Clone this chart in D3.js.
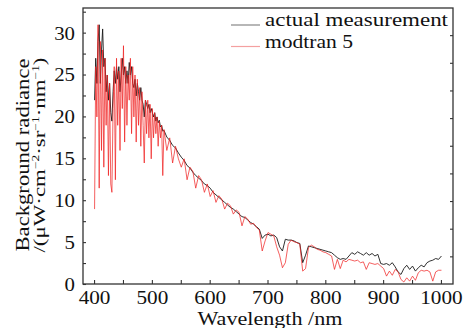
<!DOCTYPE html>
<html lang="en">
<head>
    <meta charset="UTF-8">
    <script src="https://d3js.org/d3.v7.min.js"></script>
    <style>
        body { margin: 0; background: #fff; }
        text { font-family: "Liberation Serif", "Times New Roman", serif; fill: #111; }
    </style>
</head>
<body>
    <svg id="chart" width="463" height="328"></svg>

    <script>
        // wavelength grids (nm)
        const gridA = d3.range(400, 521, 2);   // 400..520, step 2
        const gridB = d3.range(525, 1001, 5);  // 525..1000, step 5

        // actual measurement (black)
        const actualA = [
            22, 27, 24, 29, 31, 24, 28, 30.5, 26, 27,
            23, 25, 22, 24, 20.5, 19.5, 23, 25.5, 24, 26,
            24.5, 26, 23, 25, 27, 25, 26, 24, 25.5, 24,
            26.5, 25, 26, 24, 23.5, 24.5, 22.5, 24, 23, 22,
            23.5, 22, 21.5, 20, 22, 21.5, 21, 21.5, 20.5, 21,
            20.5, 20, 20.5, 19.5, 20, 19.3, 19.6, 18.8, 19, 18.3,
            18.4
        ];
        const actualB = [
            17.6, 17.2, 16.6, 16.3, 15.7, 15.2, 14.8, 14.2, 13.9, 13.4,
            13.0, 12.7, 12.4, 12.0, 11.8, 11.5, 11.0, 10.7, 10.4, 10.1,
            9.8, 9.5, 9.2, 9.0, 8.7, 8.4, 8.1, 8.0, 7.7, 7.4,
            7.2, 6.9, 6.6, 5.5, 5.9, 6.0, 5.8, 5.9, 5.6, 4.5,
            4.0, 5.4, 5.3, 5.3, 5.2, 5.0, 4.9, 2.6, 3.5, 4.6,
            4.5, 4.4, 4.3, 4.2, 4.1, 4.0, 3.9, 3.8, 3.5, 3.2,
            3.0, 3.1, 3.0, 3.4, 3.8, 3.6, 3.9, 3.7, 3.5, 3.8,
            3.5, 3.7, 3.4, 3.6, 2.5, 2.4, 2.5, 2.3, 2.6, 2.1,
            1.5, 1.2, 1.9, 2.3, 1.8, 2.2, 1.6, 2.0, 2.3, 2.1,
            2.6, 2.8, 2.9, 3.1, 3.0, 3.4
        ];

        // modtran 5 (red)
        const modtranA = [
            9, 26, 20, 31, 11.5, 29, 16, 28, 14, 27,
            19, 25, 13, 24, 12, 11, 21, 26, 12.5, 27,
            19, 25.5, 16, 27, 21, 28.5, 17, 26, 19, 25,
            22, 27, 18, 26, 20, 25, 17, 24.5, 19, 23.5,
            16.5, 23, 19, 14.5, 22, 18, 22, 17.5, 21.5, 15,
            21, 17.5, 20.5, 18, 20, 16.5, 19.5, 17.5, 19, 13,
            18.5
        ];
        const modtranB = [
            16, 17.5, 14.5, 16.5, 15, 14, 15, 12.5, 14, 13.5,
            11.5, 13, 12.5, 11, 12, 10.5, 11.2, 9.8, 10.6, 10.2,
            9.0, 9.7, 9.4, 8.4, 8.9, 8.6, 7.0, 8.1, 7.8, 7.2,
            7.3, 6.8, 6.5, 4.0, 5.2, 6.2, 6.0, 5.8, 4.5, 3.5,
            2.0, 2.6, 4.8, 5.3, 5.1, 5.0, 4.8, 1.6, 1.9, 4.4,
            4.7, 4.5, 4.2, 4.1, 3.9, 3.8, 3.6, 3.4, 1.8, 3.0,
            1.9, 2.9, 2.7, 3.0, 2.9, 2.8, 2.9, 2.6, 2.7, 1.8,
            2.6, 2.5, 2.4, 2.5, 2.2, 1.9, 1.0, 1.6, 1.1, 1.8,
            1.5, 0.6, 0.3, 0.8, 0.4, 1.0, 0.5, 1.4, 1.7, 1.6,
            1.7, 1.5, 0.4, 1.5, 1.7, 1.7
        ];

        const xTicks = [400, 500, 600, 700, 800, 900, 1000];
        const yTicks = [0, 5, 10, 15, 20, 25, 30];
        const rightTicks = [3.3, 6.6, 9.9, 13.2, 16.5, 19.8, 23.1, 26.4, 29.7];
        const legendLabels = ["actual measurement", "modtran 5"];

        const wl = gridA.concat(gridB);
        const actual = wl.map((w, i) => ({ w, v: actualA.concat(actualB)[i] }));
        const modtran = wl.map((w, i) => ({ w, v: modtranA.concat(modtranB)[i] }));

        const margin = { top: 8, right: 10, bottom: 44, left: 83 };
        const width = 463, height = 328;
        const svg = d3.select("#chart");

        const x = d3.scaleLinear().domain([380, 1020]).range([margin.left, width - margin.right]);
        const y = d3.scaleLinear().domain([0, 33]).range([height - margin.bottom + 0.5, margin.top]);

        const line = d3.line().x(d => x(d.w)).y(d => y(d.v));

        svg.append("path").datum(actual)
            .attr("d", line).attr("fill", "none")
            .attr("stroke", "#1a1a1a").attr("stroke-width", 0.9);
        svg.append("path").datum(modtran)
            .attr("d", line).attr("fill", "none")
            .attr("stroke", "#f02020").attr("stroke-width", 0.8)
            .attr("stroke-opacity", 0.9);

        // frame
        const x0 = margin.left, x1 = width - margin.right;
        const y0 = margin.top, y1 = height - margin.bottom;
        svg.append("rect")
            .attr("x", x0).attr("y", y0)
            .attr("width", x1 - x0).attr("height", y1 - y0)
            .attr("fill", "none").attr("stroke", "#333").attr("stroke-width", 1.3);

        // bottom ticks (inward)
        const xMinor = d3.range(450, 1000, 100);
        svg.selectAll(".xt").data(xTicks.concat(xMinor)).enter().append("line")
            .attr("x1", d => x(d)).attr("x2", d => x(d))
            .attr("y1", y1).attr("y2", y1 - 4)
            .attr("stroke", "#333").attr("stroke-width", 1.1);
        svg.selectAll(".xl").data(xTicks).enter().append("text")
            .attr("x", d => x(d)).attr("y", y1 + 20)
            .attr("text-anchor", "middle")
            .style("font-size", "19px")
            .attr("textLength", d => String(d).length * 10.6)
            .attr("lengthAdjust", "spacingAndGlyphs")
            .text(d => d);

        // left ticks (inward)
        const yMinor = d3.range(2.5, 33, 5);
        svg.selectAll(".yt").data(yTicks.concat(yMinor)).enter().append("line")
            .attr("x1", x0).attr("x2", x0 + 3)
            .attr("y1", d => y(d)).attr("y2", d => y(d))
            .attr("stroke", "#333").attr("stroke-width", 1.1);
        svg.selectAll(".yl").data(yTicks).enter().append("text")
            .attr("x", x0 - 8).attr("y", d => y(d))
            .attr("dy", "0.34em")
            .attr("text-anchor", "end")
            .style("font-size", "19px")
            .attr("textLength", d => String(d).length * 10.4)
            .attr("lengthAdjust", "spacingAndGlyphs")
            .text(d => d);

        // right ticks (inward)
        svg.selectAll(".rt").data(rightTicks).enter().append("line")
            .attr("x1", x1).attr("x2", x1 - 3)
            .attr("y1", d => y(d)).attr("y2", d => y(d))
            .attr("stroke", "#333").attr("stroke-width", 1.1);

        // axis titles
        svg.append("text")
            .attr("x", 270).attr("y", 325)
            .attr("text-anchor", "middle")
            .style("font-size", "19px")
            .attr("textLength", 145)
            .attr("lengthAdjust", "spacingAndGlyphs")
            .text("Wavelength /nm");

        const yt = svg.append("g")
            .attr("transform", `translate(0,${(y0 + y1) / 2 + 9}) rotate(-90)`);
        yt.append("text").attr("x", 0).attr("y", 29)
            .attr("text-anchor", "middle").style("font-size", "18px")
            .attr("textLength", 193)
            .attr("lengthAdjust", "spacingAndGlyphs")
            .text("Background radiance");
        const t2 = yt.append("text").attr("x", 0).attr("y", 45)
            .attr("text-anchor", "middle").style("font-size", "17px")
            .attr("textLength", 195)
            .attr("lengthAdjust", "spacingAndGlyphs");
        const parts = [["/(μW·cm", ""], ["−2", "sup"], ["·sr", ""], ["−1", "sup"], ["·nm", ""], ["−1", "sup"], [")", ""]];
        parts.forEach(([s, k], i) => {
            const ts = t2.append("tspan").text(s);
            if (k === "sup") ts.attr("dy", -6).style("font-size", "10px");
            else if (i > 0) ts.attr("dy", 6);
        });

        // legend
        const legColors = ["#888", "#f4a0a0"];
        const legLens = [183, 88];
        legendLabels.forEach((lab, i) => {
            const ly = 25 + i * 21.5;
            svg.append("line")
                .attr("x1", 231).attr("x2", 260)
                .attr("y1", ly).attr("y2", ly)
                .attr("stroke", legColors[i]).attr("stroke-width", 1.2);
            svg.append("text")
                .attr("x", 265).attr("y", ly + 1)
                .style("font-size", "19px")
                .attr("textLength", legLens[i])
                .attr("lengthAdjust", "spacingAndGlyphs")
                .text(lab);
        });
    </script>
</body>
</html>
